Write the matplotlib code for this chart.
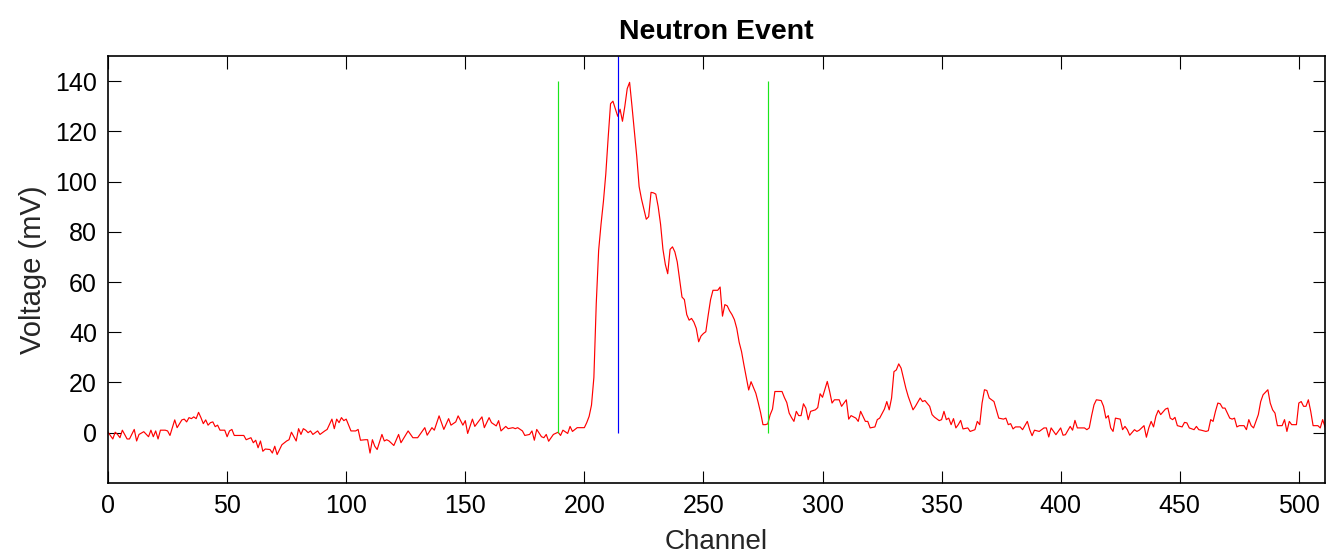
import matplotlib
matplotlib.use("Agg")
import matplotlib.pyplot as plt

plt.rcParams['font.family'] = ['Liberation Sans', 'DejaVu Sans']

# channels / voltage (mV)
channel = [0, 2, 3, 4, 5, 6, 8, 9, 11, 12, 13, 15, 17, 18, 19, 20, 21, 22, 24, 25,
           26, 27, 28, 29, 31, 32, 33, 34, 35, 36, 37, 38, 39, 40, 41, 42, 43, 44, 45, 46,
           47, 49, 50, 51, 52, 53, 57, 58, 60, 61, 62, 63, 64, 65, 66, 68, 69, 70, 71, 73,
           75, 76, 77, 79, 80, 81, 82, 83, 84, 85, 86, 88, 89, 91, 92, 94, 95, 96, 97, 98,
           99, 100, 102, 104, 105, 106, 108, 109, 110, 111, 112, 113, 115, 116, 117, 118, 120, 122, 123, 126,
           128, 130, 133, 134, 136, 137, 139, 141, 143, 144, 146, 147, 149, 150, 151, 153, 154, 157, 158, 160,
           161, 163, 164, 165, 167, 168, 170, 171, 172, 174, 175, 177, 178, 179, 180, 182, 183, 184, 185, 187,
           189, 190, 191, 193, 194, 195, 197, 199, 200, 201, 202, 203, 204, 205, 206, 207, 208, 209, 210, 211,
           212, 213, 214, 215, 216, 217, 218, 219, 220, 221, 222, 223, 224, 225, 226, 227, 228, 229, 230, 231,
           232, 233, 234, 235, 236, 237, 238, 239, 240, 241, 242, 243, 244, 245, 246, 247, 248, 249, 250, 251,
           252, 253, 254, 255, 256, 257, 258, 259, 260, 261, 262, 263, 264, 265, 266, 267, 268, 269, 270, 271,
           272, 273, 274, 275, 276, 277, 278, 279, 280, 281, 282, 283, 284, 285, 286, 287, 288, 289, 290, 291,
           292, 293, 294, 295, 297, 298, 299, 300, 302, 303, 304, 305, 307, 308, 310, 311, 312, 314, 315, 316,
           318, 319, 320, 322, 323, 324, 326, 327, 328, 329, 330, 331, 332, 333, 335, 336, 338, 339, 341, 342,
           343, 345, 346, 347, 349, 350, 351, 352, 353, 354, 355, 356, 357, 358, 359, 361, 362, 364, 365, 366,
           367, 368, 369, 370, 372, 374, 376, 377, 378, 379, 380, 381, 383, 384, 386, 387, 388, 389, 391, 393,
           394, 395, 396, 398, 400, 401, 402, 404, 405, 406, 407, 410, 411, 412, 413, 414, 415, 417, 418, 419,
           420, 421, 422, 423, 425, 426, 427, 428, 429, 431, 432, 433, 435, 436, 437, 438, 439, 440, 441, 442,
           444, 445, 446, 447, 448, 449, 451, 452, 453, 454, 456, 457, 458, 459, 461, 462, 463, 464, 465, 466,
           467, 468, 469, 471, 472, 473, 474, 475, 477, 478, 479, 480, 481, 483, 484, 485, 487, 488, 489, 490,
           491, 493, 494, 495, 496, 497, 499, 500, 501, 502, 503, 504, 505, 506, 508, 509, 510, 511]
voltage = [0.2, -2.5, 0.2, -0.7, -2.0, 1.0, -2.5, -2.5, 1.3, -3.3, -0.7, 0.4, -1.6, 1.0, -1.6, 0.7, -2.5, 1.0, 1.0, 0.7,
           -1.1, 2.0, 5.1, 2.0, 5.1, 5.4, 4.3, 6.0, 5.6, 6.3, 5.6, 8.1, 6.0, 3.6, 5.1, 3.0, 4.0, 4.3, 2.4, 3.0,
           1.0, 1.0, -1.6, 0.7, 1.3, -1.1, -1.1, -2.8, -2.0, -4.0, -3.0, -6.0, -3.3, -7.4, -6.5, -6.7, -8.1, -5.4, -8.7, -4.8,
           -3.3, -2.8, 0.2, -3.3, 1.6, -0.7, 1.6, 1.0, 0.0, 0.7, -0.7, 0.7, -0.7, 0.7, 1.3, 5.4, 1.6, 5.4, 4.0, 6.0,
           4.8, 5.4, 0.7, 0.7, 1.3, -3.0, -2.8, -2.8, -8.1, -2.8, -5.4, -6.7, -0.7, -3.3, -2.8, -3.3, -5.1, -0.7, -4.0, 0.7,
           -2.0, -2.0, 2.0, -1.0, 2.0, 1.0, 6.7, 1.3, 5.6, 3.0, 4.3, 6.7, 3.0, 4.8, -0.3, 5.4, 2.5, 6.3, 2.0, 6.0,
           4.0, 2.7, 4.8, 0.7, 2.5, 1.6, 2.0, 1.6, 2.0, 0.7, -1.1, -0.7, 0.7, -3.0, 1.3, -1.6, -2.0, -0.7, -3.4, -0.7,
           0.2, -1.1, 1.0, -0.3, 2.5, 0.5, 2.0, 2.0, 2.0, 4.0, 6.5, 11.0, 22.0, 51.5, 72.6, 83.0, 92.0, 103.0, 117.5, 131.0,
           132.0, 129.0, 126.0, 128.8, 124.0, 130.0, 137.0, 139.5, 130.0, 120.0, 110.0, 98.0, 93.0, 89.0, 85.0, 86.0, 95.7, 95.5, 95.0, 90.0,
           83.0, 73.0, 67.0, 63.3, 73.0, 74.0, 72.0, 68.0, 61.0, 54.0, 53.0, 47.0, 44.8, 45.5, 44.0, 41.5, 36.2, 38.5, 39.5, 40.2,
           46.8, 53.0, 56.7, 56.7, 56.7, 58.0, 46.4, 51.0, 50.5, 48.5, 47.0, 45.0, 41.5, 36.0, 32.3, 27.0, 22.0, 17.0, 20.3, 18.0,
           15.7, 12.0, 8.0, 3.2, 3.2, 3.5, 7.1, 9.4, 16.4, 16.4, 16.4, 16.4, 14.0, 12.0, 7.8, 6.0, 4.5, 8.5, 6.8, 6.8,
           11.5, 9.8, 5.2, 8.5, 9.1, 10.0, 15.5, 14.1, 20.4, 16.4, 11.8, 13.1, 13.1, 10.5, 13.1, 5.4, 6.8, 5.8, 4.5, 8.5,
           4.5, 4.5, 1.9, 2.3, 5.2, 5.8, 9.4, 12.4, 9.1, 13.8, 24.3, 25.0, 27.4, 25.7, 17.7, 14.4, 9.1, 10.5, 13.8, 12.4,
           12.8, 10.5, 7.2, 6.2, 4.8, 5.2, 8.5, 5.2, 5.8, 3.2, 5.6, 1.9, 3.2, 4.9, 1.5, 1.9, 0.5, 1.2, 4.5, 3.2,
           11.8, 17.1, 16.8, 13.8, 12.4, 5.8, 5.4, 5.8, 3.2, 3.6, 1.5, 2.3, 2.3, 1.2, 4.5, 1.2, -1.2, 1.0, 0.5, 1.9,
           1.9, -1.7, 1.9, -0.8, 1.9, -1.0, -0.8, 2.5, 1.0, 4.9, 1.9, 1.9, 1.2, 1.9, 6.8, 11.1, 13.1, 12.8, 10.5, 5.8,
           6.8, 1.9, 0.5, 5.8, 5.4, 1.2, 2.5, 1.2, -1.0, 1.2, 0.5, 1.0, 2.8, -1.8, 1.9, 4.5, 2.3, 6.6, 8.9, 7.2,
           9.4, 9.8, 5.8, 5.2, 6.1, 2.8, 2.3, 4.1, 3.9, 1.9, 1.2, 2.5, 1.2, 1.0, 0.5, 0.8, 5.2, 4.5, 8.5, 11.8,
           11.5, 9.8, 9.8, 5.8, 5.4, 5.8, 2.3, 2.8, 2.8, 1.2, 5.2, 2.8, 1.9, 7.2, 12.4, 15.1, 17.1, 11.8, 9.1, 7.8,
           2.8, 2.8, 5.2, 0.5, 4.5, 3.2, 3.2, 11.8, 12.4, 10.5, 10.5, 13.1, 8.5, 2.8, 2.8, 1.9, 5.2, 2.3]

# marker lines: integration window (green) and peak position (blue)
window_start = 189
window_end = 277
window_height = 140
peak_channel = 214

fig = plt.figure(figsize=(13.29, 5.57), dpi=100)
ax = fig.add_axes([0.0813, 0.133, 0.9157, 0.7665])

ax.plot(channel, voltage, color='red', lw=0.85)
ax.vlines([window_start, window_end], 0, window_height, colors=(0.1, 0.9, 0.1), lw=0.85)
ax.vlines(peak_channel, 0, 150, colors='blue', lw=0.85)

ax.set_xlim(0, 511)
ax.set_ylim(-20, 150)
ax.set_xticks(range(0, 501, 50))
ax.set_yticks(range(0, 141, 20))
ax.tick_params(direction='in', top=True, right=True, length=9, width=0.8,
               labelsize=18, pad=8)
for s in ax.spines.values():
    s.set_linewidth(1.2)

ax.set_xlabel('Channel', fontsize=20, color='#262626', labelpad=8)
ax.set_ylabel('Voltage (mV)', fontsize=21, color='#262626', labelpad=6)
ax.set_title('Neutron Event', fontsize=20.5, fontweight='bold', pad=12)

fig.savefig('out.png', dpi=100)
